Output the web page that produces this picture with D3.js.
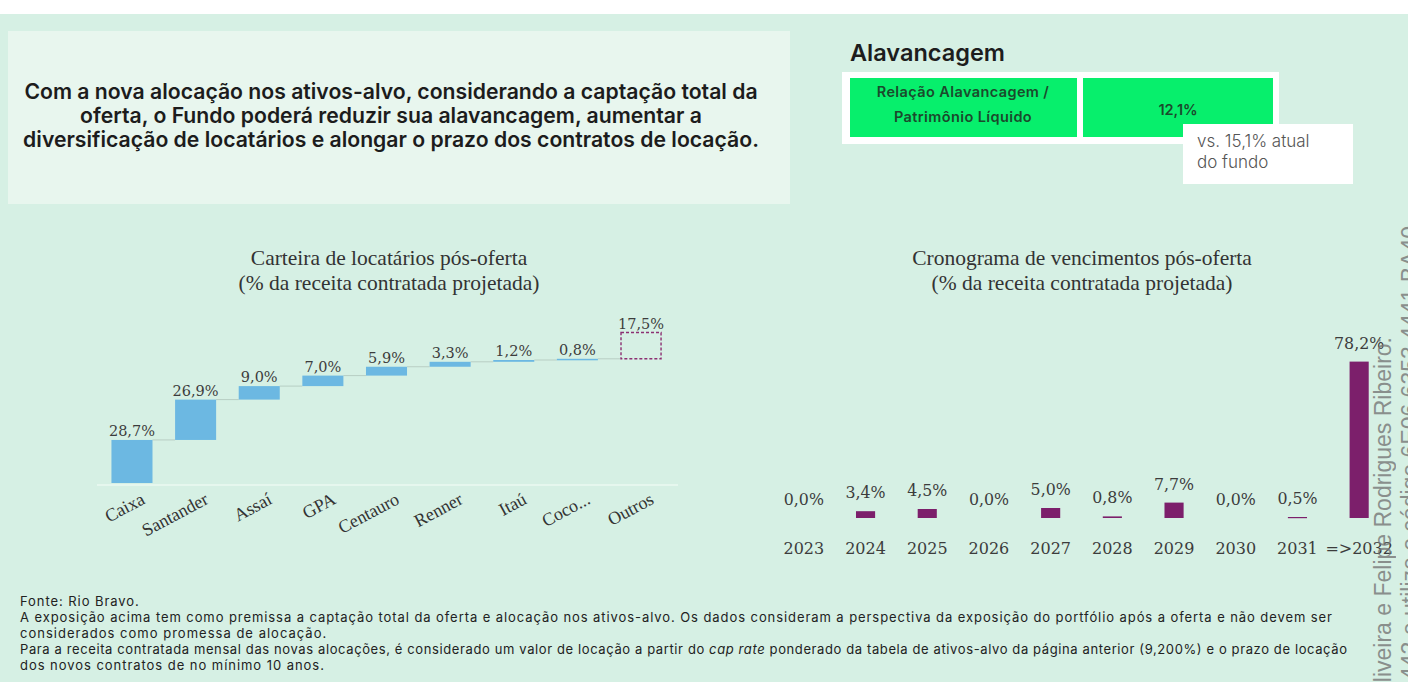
<!DOCTYPE html>
<html>
<head>
<meta charset="utf-8">
<script src="https://cdn.jsdelivr.net/npm/d3@7"></script>
<style>
  body { margin: 0; background: #d6f0e4; }
  svg { display: block; }
</style>
</head>
<body>
<div class="container"></div>
<script>
let width = 1408
let height = 682

// headline + leverage box
let introLines = [
  "Com a nova alocação nos ativos-alvo, considerando a captação total da",
  "oferta, o Fundo poderá reduzir sua alavancagem, aumentar a",
  "diversificação de locatários e alongar o prazo dos contratos de locação."
]
let leverageLabel = ["Relação Alavancagem /", "Patrimônio Líquido"]
let leverageValue = "12,1%"
let leverageNote = ["vs. 15,1% atual", "do fundo"]

// tenant waterfall
let tenants = ["Caixa", "Santander", "Assaí", "GPA", "Centauro", "Renner", "Itaú", "Coco...", "Outros"]
let tenantShare = [28.7, 26.9, 9.0, 7.0, 5.9, 3.3, 1.2, 0.8, 17.5]

// expiry schedule
let years = ["2023", "2024", "2025", "2026", "2027", "2028", "2029", "2030", "2031", "=>2032"]
let expiryShare = [0.0, 3.4, 4.5, 0.0, 5.0, 0.8, 7.7, 0.0, 0.5, 78.2]

let notes = [
  "Fonte: Rio Bravo.",
  "A exposição acima tem como premissa a captação total da oferta e alocação nos ativos-alvo. Os dados consideram a perspectiva da exposição do portfólio após a oferta e não devem ser",
  "considerados como promessa de alocação.",
  ["Para a receita contratada mensal das novas alocações, é considerado um valor de locação a partir do ", "cap rate", " ponderado da tabela de ativos-alvo da página anterior (9,200%) e o prazo de locação"],
  "dos novos contratos de no mínimo 10 anos."
]
// widths the two full lines reach in the source
let noteWidths = [null, 1312, null, 1327, null]

let fmt = function (v) { return v.toFixed(1).replace(".", ",") + "%" }
let serif = "'Liberation Serif', serif"
let numFont = "'DejaVu Serif', serif"
let sans = "Inter, 'Noto Sans', sans-serif"

let svg = d3.select(".container")
  .append("svg")
  .attr("width", width)
  .attr("height", height)

svg.append("rect").attr("width", width).attr("height", height).attr("fill", "#d6f0e4")
svg.append("rect").attr("width", width).attr("height", 14).attr("fill", "#ffffff")

// intro panel
svg.append("rect")
  .attr("x", 8).attr("y", 31).attr("width", 782).attr("height", 173)
  .attr("fill", "#e8f6ee")

svg.selectAll(".intro")
  .data(introLines)
  .enter()
  .append("text")
  .attr("class", "intro")
  .attr("x", 391)
  .attr("y", function (d, i) { return 99 + i * 24 })
  .attr("text-anchor", "middle")
  .attr("font-family", sans)
  .attr("font-weight", 600)
  .attr("font-size", "21.2px")
  .attr("fill", "#1c1c1c")
  .text(function (d) { return d })

// leverage block
svg.append("text")
  .attr("x", 850).attr("y", 61)
  .attr("font-family", sans)
  .attr("font-weight", 600)
  .attr("font-size", "23.5px")
  .attr("fill", "#1d1d1d")
  .text("Alavancagem")

svg.append("rect")
  .attr("x", 842).attr("y", 72).attr("width", 437).attr("height", 72)
  .attr("fill", "#ffffff")
svg.append("rect")
  .attr("x", 850).attr("y", 78).attr("width", 227).attr("height", 59)
  .attr("fill", "#07ef6c")
svg.append("rect")
  .attr("x", 1083).attr("y", 78).attr("width", 190).attr("height", 59)
  .attr("fill", "#07ef6c")

svg.selectAll(".levLabel")
  .data(leverageLabel)
  .enter()
  .append("text")
  .attr("class", "levLabel")
  .attr("x", 963)
  .attr("y", function (d, i) { return 97 + i * 25 })
  .attr("text-anchor", "middle")
  .attr("font-family", sans)
  .attr("font-weight", 600)
  .attr("font-size", "14.5px")
  .attr("letter-spacing", "0.4px")
  .attr("fill", "#1b4a2c")
  .text(function (d) { return d })

svg.append("text")
  .attr("x", 1178).attr("y", 115)
  .attr("text-anchor", "middle")
  .attr("font-family", sans)
  .attr("font-weight", 600)
  .attr("font-size", "14.5px")
  .attr("fill", "#1b4a2c")
  .text(leverageValue)

svg.append("rect")
  .attr("x", 1183).attr("y", 124).attr("width", 170).attr("height", 60)
  .attr("fill", "#ffffff")
svg.selectAll(".levNote")
  .data(leverageNote)
  .enter()
  .append("text")
  .attr("class", "levNote")
  .attr("x", 1197)
  .attr("y", function (d, i) { return 147 + i * 21 })
  .attr("font-family", sans)
  .attr("font-weight", 300)
  .attr("font-size", "17px")
  .attr("fill", "#555555")
  .text(function (d) { return d })

// chart titles
function chartTitle(cx, lines) {
  svg.selectAll(null)
    .data(lines)
    .enter()
    .append("text")
    .attr("x", cx)
    .attr("y", function (d, i) { return 265 + i * 25 })
    .attr("text-anchor", "middle")
    .attr("font-family", serif)
    .attr("font-size", "21.5px")
    .attr("fill", "#333333")
    .text(function (d) { return d })
}
chartTitle(389, ["Carteira de locatários pós-oferta", "(% da receita contratada projetada)"])
chartTitle(1082, ["Cronograma de vencimentos pós-oferta", "(% da receita contratada projetada)"])

// ---- waterfall ----
let running = 0
let waterfall = tenants.map(function (t, i) {
  let d = { name: t, value: tenantShare[i], start: running, end: running + tenantShare[i] }
  running = d.end
  return d
})

let xL = d3.scaleBand().domain(tenants).range([100, 673]).paddingInner(0.355).paddingOuter(0.18)
let yL = d3.scaleLinear().domain([0, 100]).range([483, 333])

svg.append("line")
  .attr("x1", 97).attr("x2", 678).attr("y1", 485).attr("y2", 485)
  .attr("stroke", "#e6f7ee").attr("stroke-width", 2)

svg.selectAll(".connector")
  .data(waterfall.slice(0, -1))
  .enter()
  .append("line")
  .attr("class", "connector")
  .attr("x1", function (d) { return xL(d.name) + xL.bandwidth() })
  .attr("x2", function (d, i) { return xL(tenants[i + 1]) })
  .attr("y1", function (d) { return yL(d.end) })
  .attr("y2", function (d) { return yL(d.end) })
  .attr("stroke", "#b8cec3")
  .attr("stroke-width", 1)

svg.selectAll(".tenantBar")
  .data(waterfall.slice(0, -1))
  .enter()
  .append("rect")
  .attr("class", "tenantBar")
  .attr("x", function (d) { return xL(d.name) })
  .attr("width", xL.bandwidth())
  .attr("y", function (d) { return yL(d.end) })
  .attr("height", function (d) { return Math.max(1.5, yL(d.start) - yL(d.end)) })
  .attr("fill", "#6cb8e2")

let other = waterfall[waterfall.length - 1]
svg.append("rect")
  .attr("x", xL(other.name) + 0.5)
  .attr("width", xL.bandwidth() - 1)
  .attr("y", yL(other.end))
  .attr("height", yL(other.start) - yL(other.end))
  .attr("fill", "none")
  .attr("stroke", "#8c2f72")
  .attr("stroke-width", 1.4)
  .attr("stroke-dasharray", "3,2")

svg.selectAll(".tenantValue")
  .data(waterfall)
  .enter()
  .append("text")
  .attr("class", "tenantValue")
  .attr("x", function (d) { return xL(d.name) + xL.bandwidth() / 2 })
  .attr("y", function (d) { return yL(d.end) - 4 })
  .attr("text-anchor", "middle")
  .attr("font-family", numFont)
  .attr("font-size", "14.5px")
  .attr("fill", "#3c3c3c")
  .text(function (d) { return fmt(d.value) })

svg.selectAll(".tenantName")
  .data(tenants)
  .enter()
  .append("text")
  .attr("class", "tenantName")
  .attr("transform", function (d) {
    return "translate(" + (xL(d) + xL.bandwidth() / 2 + 14) + ",503) rotate(-28)"
  })
  .attr("text-anchor", "end")
  .attr("font-family", serif)
  .attr("font-size", "18px")
  .attr("fill", "#333333")
  .text(function (d) { return d })

// ---- expiry bars ----
let xR = d3.scaleBand().domain(years).range([773, 1390]).paddingInner(0.69).paddingOuter(0.345)
let yR = d3.scaleLinear().domain([0, 80]).range([518, 358])

svg.selectAll(".expiryBar")
  .data(years.filter(function (d, i) { return expiryShare[i] > 0 }))
  .enter()
  .append("rect")
  .attr("class", "expiryBar")
  .attr("x", function (d) { return xR(d) })
  .attr("width", xR.bandwidth())
  .attr("y", function (d) { return yR(expiryShare[years.indexOf(d)]) })
  .attr("height", function (d) { return Math.max(1.2, 518 - yR(expiryShare[years.indexOf(d)])) })
  .attr("fill", "#7c1f6b")

svg.selectAll(".expiryValue")
  .data(years)
  .enter()
  .append("text")
  .attr("class", "expiryValue")
  .attr("x", function (d) { return xR(d) + xR.bandwidth() / 2 })
  .attr("y", function (d, i) { return yR(expiryShare[i]) - 13 })
  .attr("text-anchor", "middle")
  .attr("font-family", numFont)
  .attr("font-size", "15.8px")
  .attr("fill", "#3c3c3c")
  .text(function (d, i) { return fmt(expiryShare[i]) })

svg.selectAll(".yearLabel")
  .data(years)
  .enter()
  .append("text")
  .attr("class", "yearLabel")
  .attr("x", function (d) { return xR(d) + xR.bandwidth() / 2 })
  .attr("y", 554)
  .attr("text-anchor", "middle")
  .attr("font-family", numFont)
  .attr("font-size", "16px")
  .attr("fill", "#3c3c3c")
  .text(function (d) { return d })

// ---- footnotes ----
let noteText = svg.selectAll(".note")
  .data(notes)
  .enter()
  .append("text")
  .attr("class", "note")
  .attr("x", 20)
  .attr("y", function (d, i) { return 606 + i * 16 })
  .attr("font-family", sans)
  .attr("font-size", "13px")
  .attr("fill", "#222222")

noteText.each(function (d) {
  let t = d3.select(this)
  if (typeof d === "string") {
    t.text(d)
  } else {
    d.forEach(function (part, j) {
      t.append("tspan")
        .attr("font-style", j === 1 ? "italic" : "normal")
        .text(part)
    })
  }
})

// the two long lines run to a fixed width; short ones get the same spread
let stretch = noteWidths[1] / noteText.nodes()[1].getComputedTextLength()
noteText.each(function (d, i) {
  let target = noteWidths[i] || this.getComputedTextLength() * stretch
  d3.select(this).attr("textLength", target).attr("lengthAdjust", "spacing")
})

// ---- side watermark ----
let stamp = [
  { text: "e Oliveira e Felipe Rodrigues Ribeiro:", x: 1391, y: 337 },
  { text: "br:442 e utilize o código 6E06 6353 4441 BA40", x: 1418, y: 226 }
]
svg.selectAll(".stamp")
  .data(stamp)
  .enter()
  .append("text")
  .attr("class", "stamp")
  .attr("transform", function (d) { return "translate(" + d.x + "," + d.y + ") rotate(-90)" })
  .attr("text-anchor", "end")
  .attr("font-family", "'Liberation Sans', Arial, sans-serif")
  .attr("font-size", "23px")
  .attr("fill", "#777777")
  .attr("opacity", 0.8)
  .text(function (d) { return d.text })
</script>
</body>
</html>
